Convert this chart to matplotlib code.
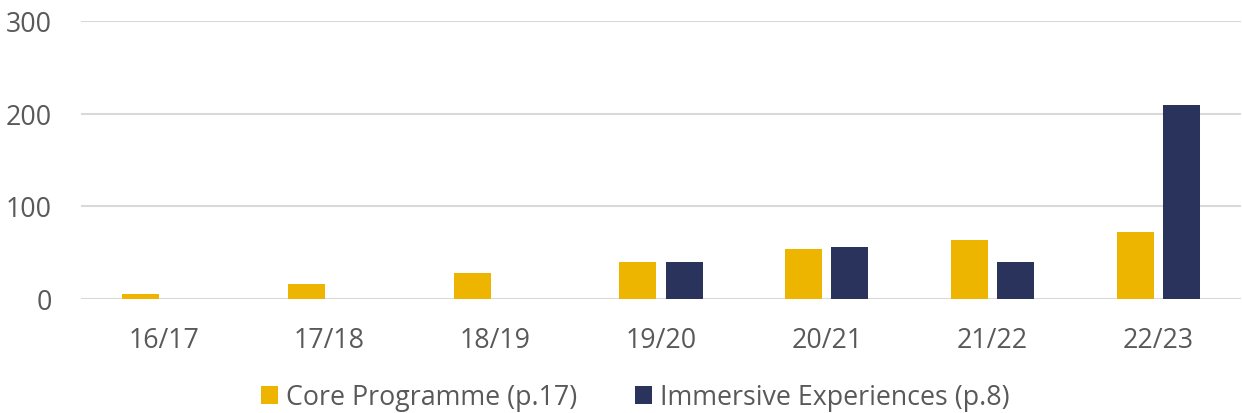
import matplotlib
matplotlib.use("Agg")
import matplotlib.pyplot as plt
import numpy as np

categories = ["16/17", "17/18", "18/19", "19/20", "20/21", "21/22", "22/23"]
core_programme = [5, 16, 28, 40, 53, 63, 72]
immersive = [0, 0, 0, 39, 56, 39, 209]
yticks = [0, 100, 200, 300]

plt.rcParams['font.family'] = ['Open Sans', 'DejaVu Sans']
text_color = "#595959"
core_color = "#EDB500"
imm_color = "#2A335B"
fs = 19.3

fig = plt.figure(figsize=(12.42, 4.14), dpi=100)
ax = fig.add_axes([81/1242, 1 - 299.5/414, (1241-81)/1242, (299.5-22)/414])

x = np.arange(len(categories))
w = 0.223
off = 0.139
ax.bar(x - off, core_programme, width=w, color=core_color, label="Core Programme (p.17)", zorder=3)
imm_x = [xi + off for xi, v in zip(x, immersive) if v > 0]
imm_v = [v for v in immersive if v > 0]
ax.bar(imm_x, imm_v, width=w, color=imm_color, label="Immersive Experiences (p.8)", zorder=3)

ax.set_xlim(-0.5, len(categories) - 0.5)
ax.set_ylim(0, 300)
ax.set_yticks(yticks)
ax.set_xticks(x)
ax.set_xticklabels(categories)
ax.tick_params(axis='both', length=0, labelsize=fs, colors=text_color)
ax.tick_params(axis='y', pad=21)
ax.tick_params(axis='x', pad=20)
ax.grid(axis='y', color="#D9D9D9", linewidth=1.5, zorder=0)
for s in ax.spines.values():
    s.set_visible(False)

leg = fig.legend(loc='center', bbox_to_anchor=(635/1242, 1 - 398.5/414), ncol=2, frameon=False,
                 fontsize=fs, handlelength=0.63, handleheight=0.63, handletextpad=0.3,
                 columnspacing=2.16, borderpad=0, borderaxespad=0)
for t in leg.get_texts():
    t.set_color(text_color)

fig.savefig("out.png", dpi=100)
